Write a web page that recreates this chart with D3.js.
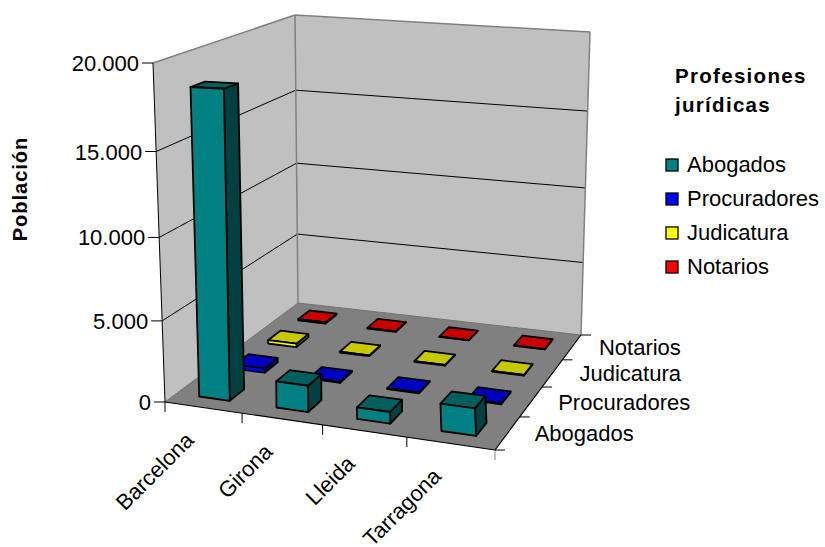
<!DOCTYPE html>
<html><head><meta charset="utf-8">
<script src="https://cdn.jsdelivr.net/npm/d3@7"></script>
<style>html,body{margin:0;padding:0;background:#fff}svg{display:block}text{font-family:"Liberation Sans",Arial,sans-serif;fill:#000}</style>
</head><body><svg id="c" width="825" height="547"></svg>
<script>
const categories=["Barcelona","Girona","Lleida","Tarragona"];
const seriesNames=["Abogados","Procuradores","Judicatura","Notarios"];
const abogados=[18500,1600,700,1600];
const procuradores=[280,60,50,60];
const judicatura=[230,50,50,50];
const notarios=[80,40,25,25];
const seriesValues=[abogados,procuradores,judicatura,notarios];
const yTicks=[0,5000,10000,15000,20000];
const faceColors=[
 {front:"#008080",top:"#006060",side:"#004040"},
 {front:"#0000ff",top:"#0000c0",side:"#000080"},
 {front:"#ffff00",top:"#c8c800",side:"#808000"},
 {front:"#ff0000",top:"#c80000",side:"#800000"}];
const legendColors=["#008080","#0000ff","#ffff00","#ff0000"];

// Projection calibration: floor and ceiling quads [front-left, front-right, back-right, back-left]
const floorQuad=[[165,402],[495,450],[581,335],[298,303]];
const topQuad=[[153,63],[472,77],[590,32],[295,15]];
function homography(q){
 const [x0,y0]=q[0],[x1,y1]=q[1],[x2,y2]=q[2],[x3,y3]=q[3];
 const dx1=x1-x2,dx2=x3-x2,sx=x0-x1+x2-x3,dy1=y1-y2,dy2=y3-y2,sy=y0-y1+y2-y3;
 const den=dx1*dy2-dx2*dy1;
 const g=(sx*dy2-dx2*sy)/den,h=(dx1*sy-sx*dy1)/den;
 const a=x1-x0+g*x1,b=x3-x0+h*x3,c=x0,d=y1-y0+g*y1,e=y3-y0+h*y3,f=y0;
 return (u,v)=>{const w=g*u+h*v+1;return [(a*u+b*v+c)/w,(d*u+e*v+f)/w];};
}
const floorH=homography(floorQuad),topH=homography(topQuad);
const yScale=d3.scaleLinear().domain([0,20000]).range([0,1]);
const P=(u,v,val)=>{
 const t=yScale(val),s=t/(t+(1-t)*1.06);
 const a=floorH(u,v),b=topH(u,v);
 return [a[0]+(b[0]-a[0])*s,a[1]+(b[1]-a[1])*s];
};
const uScale=d3.scaleBand().domain(categories).range([0,1]).paddingInner(.6).paddingOuter(.3);
const vScale=d3.scaleBand().domain(seriesNames).range([0,1]).paddingInner(.6).paddingOuter(.3);
const svg=d3.select("#c");
const line=d3.line();
const poly=(pts,fill,stroke,sw)=>svg.append("path").attr("d",line(pts)+(fill!=="none"?"Z":"")).attr("fill",fill).attr("stroke",stroke||"none").attr("stroke-width",sw||1).attr("stroke-linejoin","round");

// walls and floor
poly([P(0,0,0),P(0,1,0),P(0,1,20000),P(0,0,20000)],"#c0c0c0");
poly([P(0,1,0),P(1,1,0),P(1,1,20000),P(0,1,20000)],"#c0c0c0");
poly([P(0,0,0),P(1,0,0),P(1,1,0),P(0,1,0)],"#808080");
// grid
yTicks.slice(1,-1).forEach(t=>poly([P(0,0,t),P(0,1,t),P(1,1,t)],"none","#000",1));
// wall outlines
poly([P(0,0,20000),P(0,1,20000),P(1,1,20000),P(1,1,0)],"none","#808080",1.5);
poly([P(0,1,20000),P(0,1,0)],"none","#808080",1.5);
poly([P(0,1,0),P(1,1,0)],"none","#707070",1);
poly([P(0,0,0),P(0,1,0)],"none","#707070",1);
poly([P(0,0,0),P(0,0,20000)],"none","#000",1);
poly([P(0,0,0),P(1,0,0),P(1,1,0)],"none","#000",1.2);

// value axis
const fmt=d3.formatLocale({decimal:",",thousands:".",grouping:[3],currency:["",""]}).format(",d");
yTicks.forEach(t=>{
 const p=P(0,0,t);
 svg.append("line").attr("x1",p[0]-11).attr("x2",p[0]).attr("y1",p[1]).attr("y2",p[1]).attr("stroke","#000");
 svg.append("text").attr("x",p[0]-14).attr("y",p[1]+8).attr("text-anchor","end").attr("font-size",22).text(fmt(t));
});
// category axis
const uTick=d3.scaleLinear().domain([0,categories.length]).range([0,1]);
d3.range(categories.length+1).forEach(i=>{
 const p=P(uTick(i),0,0);
 svg.append("line").attr("x1",p[0]).attr("x2",p[0]).attr("y1",p[1]).attr("y2",p[1]+10).attr("stroke",i==categories.length?"#808080":"#000");
});
categories.forEach((c,i)=>{
 const p=P(uTick(i+.5),0,0);
 svg.append("text").attr("transform",`translate(${p[0]-8},${p[1]+34}) rotate(-45)`).attr("text-anchor","end").attr("font-size",22).text(c);
});
// series axis
const vTick=d3.scaleLinear().domain([0,seriesNames.length]).range([0,1]);
d3.range(seriesNames.length+1).forEach(i=>{
 const p=P(1,vTick(i),0);
 svg.append("line").attr("x1",p[0]).attr("x2",p[0]+10).attr("y1",p[1]).attr("y2",p[1]).attr("stroke","#000");
});
seriesNames.forEach((s,i)=>{
 const p=P(1,vTick(i+.5),0);
 svg.append("text").attr("x",p[0]+27).attr("y",p[1]+8).attr("font-size",22).text(s);
});

// bars back-to-front
d3.range(seriesNames.length-1,-1,-1).forEach(j=>{
 categories.forEach((c,i)=>{
  const val=seriesValues[j][i],col=faceColors[j];
  const u0=uScale(c),u1=u0+uScale.bandwidth(),v0=vScale(seriesNames[j]),v1=v0+vScale.bandwidth();
  poly([P(u1,v0,0),P(u1,v1,0),P(u1,v1,val),P(u1,v0,val)],col.side,"#000",1.8);
  poly([P(u0,v0,val),P(u1,v0,val),P(u1,v1,val),P(u0,v1,val)],col.top,"#000",1.8);
  poly([P(u0,v0,0),P(u1,v0,0),P(u1,v0,val),P(u0,v0,val)],col.front,"#000",1.8);
 });
});

// axis title
svg.append("text").attr("transform","translate(27,189) rotate(-90)").attr("text-anchor","middle").attr("font-size",20).attr("font-weight","bold").attr("letter-spacing",1).text("Población");
// legend
svg.append("text").attr("x",675).attr("y",83).attr("font-size",20.5).attr("font-weight","bold").attr("letter-spacing",1.3).text("Profesiones");
svg.append("text").attr("x",675).attr("y",112).attr("font-size",20.5).attr("font-weight","bold").attr("letter-spacing",1.3).text("jurídicas");
const legendY=d3.scalePoint().domain(seriesNames).range([165,267]);
seriesNames.forEach((s,i)=>{
 const y=legendY(s);
 svg.append("rect").attr("x",666).attr("y",y-6).attr("width",12).attr("height",12).attr("fill",legendColors[i]).attr("stroke","#000").attr("stroke-width",1.3);
 svg.append("text").attr("x",687).attr("y",y+7).attr("font-size",22).text(s);
});
</script></body></html>
